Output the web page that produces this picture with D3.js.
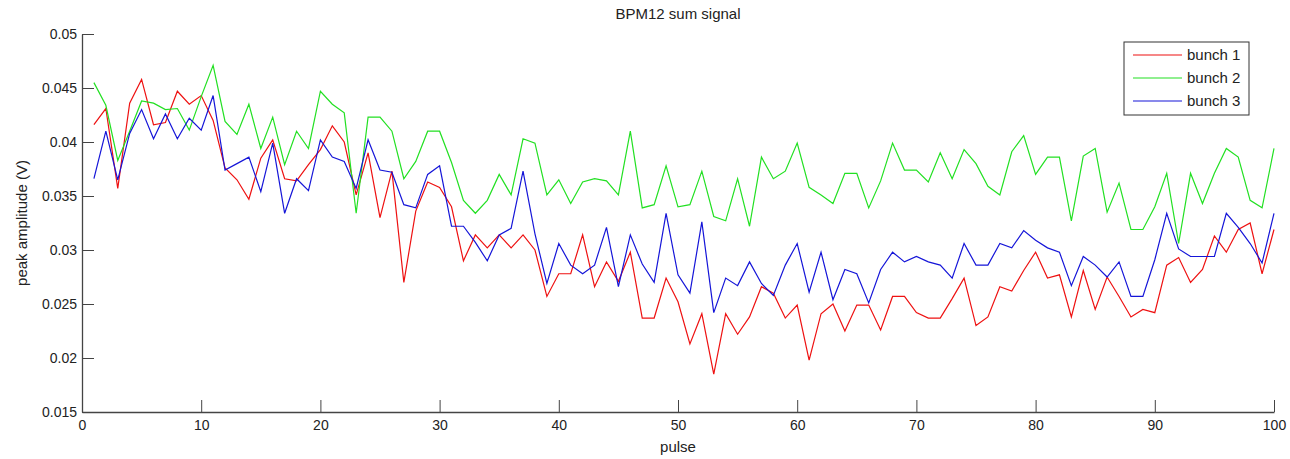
<!DOCTYPE html>
<html>
<head>
<meta charset="utf-8">
<script src="https://cdn.jsdelivr.net/npm/d3@7"></script>
<style>
  html, body { margin: 0; padding: 0; background: #fff; }
  svg { display: block; }
  text { font-family: "Liberation Sans", Arial, sans-serif; fill: #222; }
</style>
</head>
<body>
<svg id="chart" width="1290" height="459"></svg>
<script>
const pulses = d3.range(1, 101);
const bunch1 = [
  0.0416,0.0431,0.0357,0.0436,0.0458,0.0416,0.0418,0.0447,0.0435,0.0443,
  0.0420,0.0376,0.0365,0.0347,0.0385,0.0402,0.0366,0.0364,0.0379,0.0393,
  0.0415,0.0400,0.0351,0.0390,0.0330,0.0373,0.0270,0.0336,0.0363,0.0358,
  0.0340,0.0290,0.0314,0.0302,0.0314,0.0302,0.0314,0.0300,0.0257,0.0278,
  0.0278,0.0314,0.0266,0.0289,0.0271,0.0298,0.0237,0.0237,0.0274,0.0252,
  0.0213,0.0241,0.0185,0.0241,0.0222,0.0238,0.0266,0.0260,0.0237,0.0249,
  0.0198,0.0241,0.0250,0.0225,0.0249,0.0249,0.0226,0.0257,0.0257,0.0242,
  0.0237,0.0237,0.0255,0.0274,0.0230,0.0238,0.0266,0.0262,0.0281,0.0298,
  0.0274,0.0277,0.0238,0.0281,0.0245,0.0275,0.0257,0.0238,0.0245,0.0242,
  0.0286,0.0293,0.0270,0.0282,0.0313,0.0298,0.0319,0.0325,0.0278,0.0319
];
const bunch2 = [
  0.0455,0.0434,0.0383,0.0410,0.0438,0.0436,0.0430,0.0431,0.0411,0.0442,
  0.0471,0.0419,0.0407,0.0435,0.0394,0.0423,0.0379,0.0410,0.0394,0.0447,
  0.0435,0.0427,0.0334,0.0423,0.0423,0.0410,0.0366,0.0382,0.0410,0.0410,
  0.0381,0.0346,0.0334,0.0346,0.0370,0.0351,0.0403,0.0399,0.0351,0.0365,
  0.0343,0.0363,0.0366,0.0364,0.0351,0.0410,0.0339,0.0342,0.0378,0.0340,
  0.0342,0.0373,0.0331,0.0327,0.0366,0.0322,0.0386,0.0366,0.0373,0.0399,
  0.0358,0.0351,0.0343,0.0371,0.0371,0.0339,0.0364,0.0399,0.0374,0.0374,
  0.0363,0.0390,0.0366,0.0393,0.0380,0.0359,0.0351,0.0391,0.0406,0.0370,
  0.0386,0.0386,0.0327,0.0387,0.0394,0.0335,0.0362,0.0319,0.0319,0.0340,
  0.0371,0.0306,0.0371,0.0343,0.0371,0.0394,0.0386,0.0346,0.0339,0.0394
];
const bunch3 = [
  0.0366,0.0410,0.0365,0.0408,0.0430,0.0403,0.0426,0.0403,0.0422,0.0411,
  0.0443,0.0374,0.0380,0.0386,0.0354,0.0399,0.0334,0.0366,0.0355,0.0402,
  0.0386,0.0382,0.0357,0.0402,0.0374,0.0372,0.0342,0.0339,0.0370,0.0378,
  0.0322,0.0322,0.0307,0.0290,0.0314,0.0320,0.0373,0.0315,0.0269,0.0306,
  0.0286,0.0278,0.0286,0.0321,0.0266,0.0314,0.0287,0.0270,0.0334,0.0277,
  0.0260,0.0326,0.0242,0.0274,0.0267,0.0289,0.0269,0.0258,0.0286,0.0306,
  0.0261,0.0298,0.0254,0.0282,0.0278,0.0251,0.0282,0.0298,0.0289,0.0294,
  0.0289,0.0286,0.0274,0.0306,0.0286,0.0286,0.0306,0.0302,0.0318,0.0309,
  0.0302,0.0298,0.0267,0.0294,0.0286,0.0275,0.0289,0.0257,0.0257,0.0291,
  0.0334,0.0301,0.0294,0.0294,0.0294,0.0334,0.0321,0.0306,0.0288,0.0334
];
const seriesNames = ["bunch 1", "bunch 2", "bunch 3"];
const seriesColors = ["#ee1111", "#22e022", "#1515d8"];
const xTicks = [0,10,20,30,40,50,60,70,80,90,100];
const yTicks = [0.015,0.02,0.025,0.03,0.035,0.04,0.045,0.05];
const yTickLabels = ["0.015","0.02","0.025","0.03","0.035","0.04","0.045","0.05"];

const svg = d3.select("#chart");
const m = {left: 82, right: 1274, top: 34, bottom: 412};
const x = d3.scaleLinear().domain([0, 100]).range([m.left, m.right]);
const y = d3.scaleLinear().domain([0.015, 0.05]).range([m.bottom, m.top]);
const axisColor = "#444";

// Axes
const xAxis = svg.append("g").attr("transform", `translate(0,${m.bottom})`)
  .call(d3.axisBottom(x).tickValues(xTicks).tickFormat(d3.format("d")).tickSizeInner(-12).tickSizeOuter(0).tickPadding(5));
const yAxis = svg.append("g").attr("transform", `translate(${m.left},0)`)
  .call(d3.axisLeft(y).tickValues(yTicks).tickFormat((d,i) => yTickLabels[i]).tickSizeInner(-12).tickSizeOuter(0).tickPadding(5));
[xAxis, yAxis].forEach(g => {
  g.select(".domain").attr("stroke", axisColor).attr("stroke-width", 1.3);
  g.selectAll(".tick line").attr("stroke", axisColor).attr("stroke-width", 1);
  g.selectAll(".tick text").attr("font-family", "Liberation Sans, Arial, sans-serif")
    .attr("font-size", 14).attr("fill", "#222");
});
xAxis.selectAll(".tick text").attr("dy", "0.9em");

// Lines
const data = [bunch1, bunch2, bunch3];
const line = d3.line().x((d, i) => x(pulses[i])).y(d => y(d));
data.forEach((s, k) => {
  svg.append("path").datum(s)
    .attr("fill", "none")
    .attr("stroke", seriesColors[k])
    .attr("stroke-width", 1.2)
    .attr("stroke-linejoin", "miter")
    .attr("d", line);
});

// Title & labels
svg.append("text").attr("x", (m.left + m.right) / 2).attr("y", 19)
  .attr("text-anchor", "middle").attr("font-size", 15).text("BPM12 sum signal");
svg.append("text").attr("x", (m.left + m.right) / 2).attr("y", 452)
  .attr("text-anchor", "middle").attr("font-size", 15).text("pulse");
svg.append("text")
  .attr("transform", `translate(27,${(m.top + m.bottom) / 2}) rotate(-90)`)
  .attr("text-anchor", "middle").attr("font-size", 15).text("peak amplitude (V)");

// Legend
const lg = svg.append("g");
lg.append("rect").attr("x", 1124).attr("y", 42).attr("width", 125).attr("height", 73)
  .attr("fill", "#fff").attr("stroke", "#333").attr("stroke-width", 1);
seriesNames.forEach((name, k) => {
  const yy = 55 + k * 23;
  lg.append("line").attr("x1", 1133).attr("x2", 1182).attr("y1", yy).attr("y2", yy)
    .attr("stroke", seriesColors[k]).attr("stroke-width", 1.2);
  lg.append("text").attr("x", 1187).attr("y", yy + 5).attr("font-size", 15).text(name);
});
</script>
</body>
</html>
